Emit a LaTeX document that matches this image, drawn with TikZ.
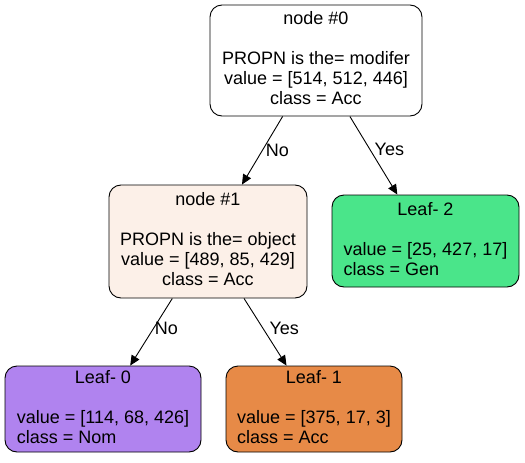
\documentclass[tikz,border=0pt]{standalone}
\usepackage{fontspec}
\setmainfont{Liberation Sans}
\usetikzlibrary{arrows.meta}
\definecolor{cInt}{HTML}{FCF0E8}
\definecolor{cGen}{HTML}{4AE58A}
\definecolor{cNom}{HTML}{B083EF}
\definecolor{cAcc}{HTML}{E78A47}
\begin{document}
\begin{tikzpicture}[x=1pt,y=-1pt,
  treebox/.style={draw=black, line width=0.9pt, rounded corners=12pt, inner sep=0pt,
    font=\fontsize{18}{20}\selectfont},
  edge/.style={draw=black, line width=0.9pt, -{Triangle[length=10pt,width=9pt]}},
  elabel/.style={font=\fontsize{18}{20}\selectfont, inner sep=0pt}]
\useasboundingbox (0,0) rectangle (525,463);
\node[treebox, fill=white, minimum width=212pt, minimum height=111pt] (n0) at (316,60.5)
  {\begin{tabular}{@{}c@{}}node \#0\\ \\ PROPN is the= modifer\\ value = [514, 512, 446]\\ class = Acc\end{tabular}};
\node[treebox, fill=cInt, minimum width=198pt, minimum height=113pt] (n1) at (208,241.5)
  {\begin{tabular}{@{}c@{}}node \#1\\ \\ PROPN is the= object\\ value = [489, 85, 429]\\ class = Acc\end{tabular}};
\node[treebox, fill=cGen, minimum width=187pt, minimum height=92pt] (l2) at (425.5,241)
  {\begin{tabular}{@{}l@{}}\multicolumn{1}{@{}c@{}}{Leaf- 2}\\ \\ value = [25, 427, 17]\\ class = Gen\end{tabular}};
\node[treebox, fill=cNom, minimum width=196pt, minimum height=86pt] (l0) at (103,409)
  {\begin{tabular}{@{}l@{}}\multicolumn{1}{@{}c@{}}{Leaf- 0}\\ \\ value = [114, 68, 426]\\ class = Nom\end{tabular}};
\node[treebox, fill=cAcc, minimum width=176pt, minimum height=86pt] (l1) at (314,409)
  {\begin{tabular}{@{}l@{}}\multicolumn{1}{@{}c@{}}{Leaf- 1}\\ \\ value = [375, 17, 3]\\ class = Acc\end{tabular}};
\draw[edge] (n0) -- node[elabel, pos=0.5, anchor=west, xshift=3pt, yshift=0pt] (e1) {No} (n1);
\draw[edge] (n0) -- node[elabel, pos=0.45, anchor=west, xshift=3pt, yshift=2pt] (e2) {Yes} (l2);
\draw[edge] (n1) -- node[elabel, pos=0.45, anchor=west, xshift=1pt, yshift=0pt] (e3) {No} (l0);
\draw[edge] (n1) -- node[elabel, pos=0.45, anchor=west, xshift=6pt, yshift=0pt] (e4) {Yes} (l1);
\end{tikzpicture}
\end{document}
